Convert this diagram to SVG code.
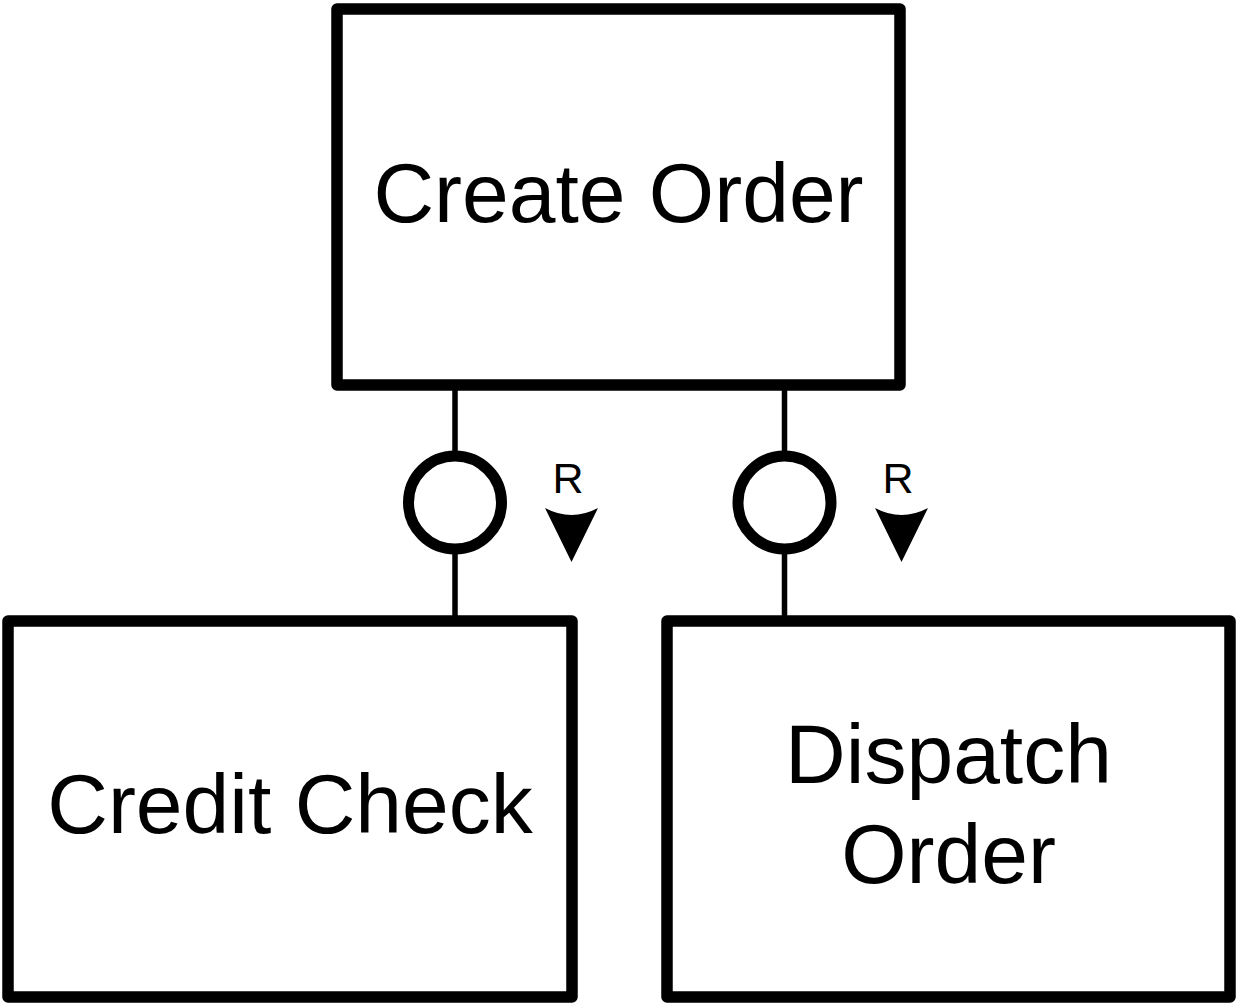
<svg xmlns="http://www.w3.org/2000/svg" width="1238" height="1006" viewBox="0 0 1238 1006">
<style>
.box{fill:#fff;stroke:#000;stroke-width:11.5;stroke-linejoin:round}
.lbl{font-family:"Liberation Sans",Arial,sans-serif;font-size:84px;fill:#000;text-anchor:middle}
.r{font-family:"Liberation Sans",Arial,sans-serif;font-size:43px;fill:#000;text-anchor:middle}
.ln{stroke:#000;stroke-width:5.5;fill:none}
.ring{fill:#fff;stroke:#000;stroke-width:11}
.arr{fill:#000}
</style>
<rect width="1238" height="1006" fill="#fff"/>
<g id="connectors">
<g id="c1">
<line class="ln" x1="455" y1="385" x2="455" y2="621"/>
<circle class="ring" cx="455" cy="502.5" r="46.5"/>
<text class="r" x="568" y="493">R</text>
<path class="arr" d="M545,508 Q571.5,522 598,508 L571.5,562 Z"/>
</g>
<g id="c2">
<line class="ln" x1="784.5" y1="385" x2="784.5" y2="621"/>
<circle class="ring" cx="784.5" cy="502.5" r="46.5"/>
<text class="r" x="898" y="493">R</text>
<path class="arr" d="M875,508 Q901.5,522 928,508 L901.5,562 Z"/>
</g>
</g>
<g id="create-order">
<rect class="box" x="337" y="9" width="563" height="376"/>
<text class="lbl" x="618.5" y="222">Create Order</text>
</g>
<g id="credit-check">
<rect class="box" x="8" y="621" width="564" height="376"/>
<text class="lbl" x="290" y="833">Credit Check</text>
</g>
<g id="dispatch-order">
<rect class="box" x="667" y="621" width="563" height="376"/>
<text class="lbl" x="948.5" y="783">Dispatch</text>
<text class="lbl" x="948.5" y="883">Order</text>
</g>
</svg>
